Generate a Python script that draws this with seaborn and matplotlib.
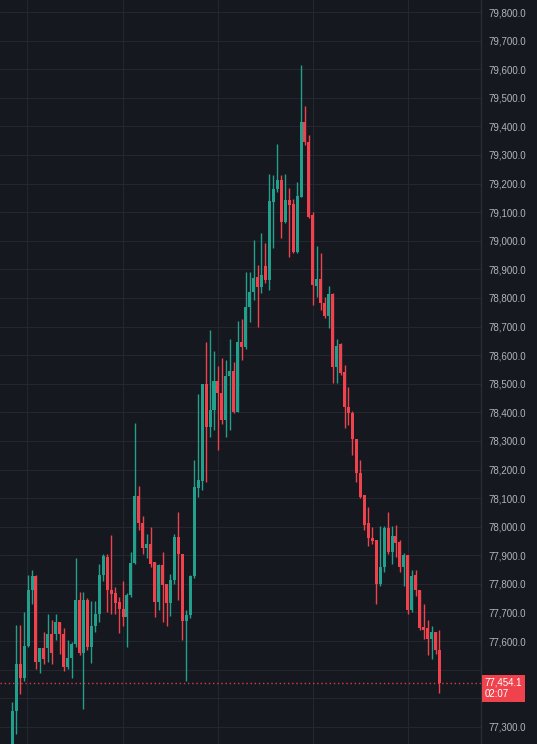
import numpy as np
import pandas as pd
import matplotlib.pyplot as plt
import matplotlib.transforms as mtransforms
import seaborn as sns

# candle values (oldest -> newest)
opens = [77220, 77354, 77521, 77472, 77584, 77777, 77826, 77528, 77574, 77574,
         77626, 77623, 77668, 77626, 77511, 77542, 77588, 77742, 77560, 77742,
         77579, 77651, 77693, 77830, 77894, 77780, 77768, 77737, 77713, 77684,
         77760, 77873, 78107, 78012, 77924, 77938, 77877, 77737, 77866, 77801,
         77733, 77812, 77964, 77906, 77670, 77690, 77826, 78135, 78160, 78498,
         78349, 78407, 78510, 78466, 78372, 78526, 78545, 78401, 78646, 78629,
         78767, 78821, 78872, 78839, 78911, 78862, 79136, 79180, 79212, 79066,
         79142, 79128, 78961, 79154, 79416, 79346, 79090, 78841, 78865, 78783,
         78737, 78813, 78559, 78638, 78541, 78419, 78398, 78305, 78187, 78111,
         78012, 77962, 77952, 77798, 77859, 77996, 77911, 77969, 77945, 77859,
         77900, 77707, 77830, 77780, 77649, 77644, 77608, 77631, 77570]
highs = [77386, 77655, 77655, 77703, 77830, 77850, 77830, 77574, 77630, 77696,
         77675, 77696, 77668, 77647, 77602, 77595, 77889, 77770, 77770, 77749,
         77740, 77740, 77868, 77903, 77903, 77970, 77789, 77754, 77810, 77768,
         77912, 78363, 78141, 78036, 77973, 78000, 77877, 77868, 77910, 77801,
         77833, 77975, 78053, 77906, 77707, 77830, 78232, 78465, 78498, 78646,
         78687, 78615, 78561, 78589, 78582, 78657, 78577, 78720, 78725, 78892,
         78892, 79002, 78915, 79028, 78991, 79233, 79230, 79340, 79230, 79233,
         79183, 79145, 79206, 79614, 79471, 79370, 79101, 78981, 78956, 78804,
         78841, 78817, 78657, 78643, 78566, 78489, 78405, 78305, 78232, 78111,
         78070, 78000, 77952, 78004, 78004, 78053, 78004, 78007, 77952, 77908,
         77900, 77850, 77847, 77780, 77731, 77675, 77654, 77631, 77637]
lows = [77190, 77276, 77416, 77462, 77580, 77731, 77504, 77490, 77521, 77528,
        77521, 77602, 77556, 77497, 77504, 77472, 77580, 77550, 77364, 77570,
        77525, 77631, 77665, 77809, 77700, 77693, 77693, 77628, 77654, 77579,
        77754, 77868, 77987, 77903, 77889, 77859, 77684, 77708, 77665, 77654,
        77689, 77801, 77742, 77602, 77462, 77679, 77820, 78104, 78127, 78156,
        78314, 78337, 78267, 78360, 78314, 78337, 78396, 78401, 78582, 78620,
        78717, 78793, 78700, 78816, 78853, 78829, 78973, 79171, 79008, 79061,
        78944, 78958, 78958, 79154, 79334, 79078, 78775, 78804, 78757, 78729,
        78694, 78501, 78501, 78530, 78344, 78355, 78251, 78157, 78100, 77987,
        77931, 77941, 77731, 77791, 77843, 77906, 77868, 77894, 77843, 77794,
        77696, 77700, 77756, 77637, 77608, 77550, 77539, 77556, 77419]
closes = [77357, 77521, 77472, 77584, 77777, 77826, 77528, 77574, 77539, 77626,
          77560, 77668, 77623, 77511, 77542, 77588, 77742, 77560, 77742, 77579,
          77651, 77693, 77830, 77896, 77777, 77766, 77733, 77713, 77684, 77760,
          77873, 78107, 78012, 77924, 77941, 77871, 77737, 77866, 77796, 77733,
          77812, 77964, 77903, 77670, 77690, 77826, 78140, 78162, 78498, 78349,
          78407, 78510, 78466, 78372, 78526, 78545, 78401, 78646, 78629, 78767,
          78821, 78868, 78839, 78880, 78862, 79140, 79180, 79212, 79066, 79142,
          79125, 78961, 79156, 79416, 79346, 79084, 78845, 78865, 78781, 78737,
          78813, 78559, 78631, 78538, 78417, 78398, 78305, 78187, 78105, 78007,
          77960, 77951, 77801, 77859, 77996, 77911, 77969, 77943, 77859, 77900,
          77707, 77826, 77777, 77644, 77637, 77608, 77631, 77567, 77454.1]
countdown = "02:07"
price_ticks = np.arange(77300, 79801, 100)
session_marks = [3.8, 28, 52, 76, 100]   # vertical grid (session boundaries)

BG = '#16181f'
GRID = '#24272f'
UP = '#22a08e'
DOWN = '#f0424d'
LABEL = '#b2b5be'

df = pd.DataFrame({'open': opens, 'high': highs, 'low': lows, 'close': closes})
df['idx'] = np.arange(len(df))
df['color'] = np.where(df['close'] >= df['open'], UP, DOWN)

sns.set_theme(style='dark', rc={'axes.facecolor': BG, 'figure.facecolor': BG,
                                'axes.edgecolor': GRID, 'grid.color': GRID})
plt.rcParams['font.family'] = ['Liberation Sans', 'DejaVu Sans']

fig = plt.figure(figsize=(5.37, 7.44), dpi=100)
ax = fig.add_axes([0, 0, 0.895, 1])

# wicks + bodies
ax.vlines(df['idx'], df['low'], df['high'], colors=df['color'], lw=1, zorder=3)
body = (df['close'] - df['open']).abs().clip(lower=4)
ax.bar(df['idx'], body, bottom=df[['open', 'close']].min(axis=1), width=0.76,
       color=df['color'], linewidth=0, zorder=3)

last = closes[-1]
ax.axhline(last, color=DOWN, lw=1, ls=(0, (1, 2)), alpha=0.9, zorder=2)

ax.set_xlim(-3.1, 118.4)
ax.set_ylim(77240, 79842)
ax.yaxis.tick_right()
ax.set_yticks(price_ticks)
# the label hidden behind the price tag is dropped
ax.set_yticklabels(['' if abs(v - last) < 60 else f'{v:,.1f}' for v in price_ticks])
ax.set_xticks(session_marks)
ax.set_xticklabels([])
ax.tick_params(axis='both', length=0)
ax.tick_params(axis='y', pad=6, labelsize=7, colors=LABEL)
ax.grid(True, color=GRID, lw=0.8)
for s in ['left', 'top', 'bottom']:
    ax.spines[s].set_visible(False)
ax.spines['right'].set_color('#2a2d35')
ax.spines['right'].set_linewidth(1)

# price tag
trans = mtransforms.blended_transform_factory(ax.transAxes, ax.transData)
ax.annotate(f'{last:,.1f}\n{countdown}', xy=(1, last), xycoords=trans,
            xytext=(4, 5.5), textcoords='offset pixels', ha='left', va='top',
            fontsize=7, color='white', linespacing=1.25, annotation_clip=False,
            bbox=dict(boxstyle='square,pad=0.28', fc=DOWN, ec='none'), zorder=5)

fig.savefig('out.png', dpi=100, facecolor=BG)
